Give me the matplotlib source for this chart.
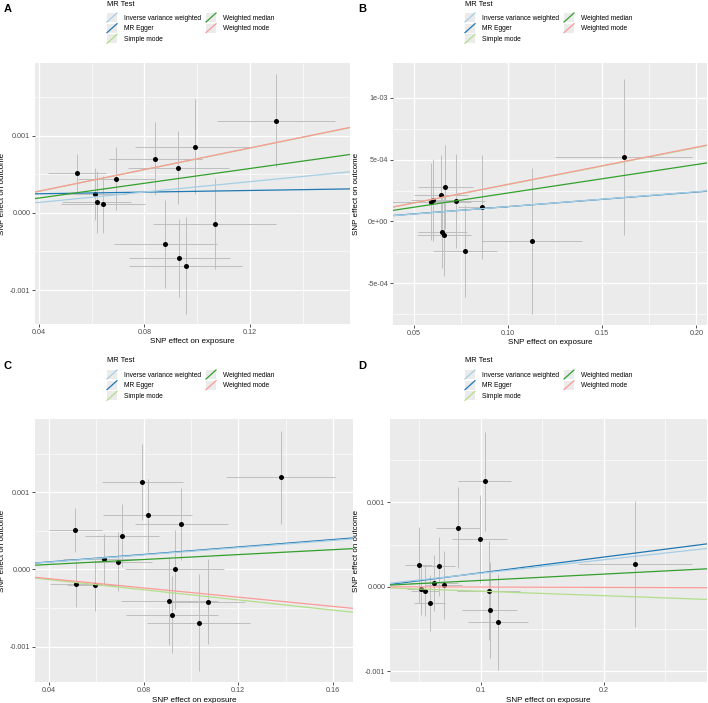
import numpy as np
import matplotlib
matplotlib.use("Agg")
import matplotlib.pyplot as plt
from matplotlib.legend_handler import HandlerBase
from matplotlib.lines import Line2D
from matplotlib.patches import Rectangle

plt.rcParams['font.family'] = ['Liberation Sans', 'DejaVu Sans']

# ---- data: SNP effects and their half error bars ----
a_bx = [0.0546, 0.0611, 0.0620, 0.0643, 0.0694, 0.0842, 0.0928, 0.0991, 0.1067, 0.0880, 0.0933, 0.0957, 0.1300]
a_by = [0.000513, 0.000241, 0.000138, 0.000108, 0.000440, 0.000703, 0.000586, 0.000858, -0.000142, -0.000405, -0.000586, -0.000685, 0.001194]
a_sx = [0.011, 0.012, 0.0131, 0.016, 0.0146, 0.0175, 0.0192, 0.0225, 0.0233, 0.0197, 0.019, 0.0214, 0.0224]
a_sy = [0.00025, 0.00034, 0.0004, 0.00037, 0.00041, 0.00047, 0.00047, 0.00061, 0.00059, 0.00057, 0.00051, 0.00063, 0.0006]

b_bx = [0.1614, 0.0594, 0.0603, 0.0645, 0.0668, 0.0726, 0.0864, 0.0652, 0.0661, 0.0771, 0.1130]
b_by = [0.000524, 0.000161, 0.000172, 0.000210, 0.000280, 0.000169, 0.000116, -0.0000887, -0.000113, -0.000237, -0.000156]
b_sx = [0.0365, 0.021, 0.012, 0.0145, 0.0147, 0.0150, 0.013, 0.0131, 0.0143, 0.017, 0.0265]
b_sy = [0.00063, 0.00031, 0.00033, 0.00033, 0.00034, 0.00038, 0.00042, 0.00029, 0.00033, 0.00037, 0.00059]

c_bx = [0.1379, 0.0795, 0.0817, 0.0960, 0.0512, 0.0709, 0.0633, 0.0694, 0.0931, 0.0515, 0.0595, 0.0909, 0.1073, 0.0921, 0.1032]
c_by = [0.001195, 0.00113, 0.000701, 0.000589, 0.000511, 0.000437, 0.000134, 0.0000996, 0.0, -0.000186, -0.000203, -0.000411, -0.000420, -0.000589, -0.000693]
c_sx = [0.023, 0.0172, 0.0186, 0.0195, 0.0112, 0.0157, 0.0172, 0.014, 0.021, 0.011, 0.012, 0.0204, 0.0155, 0.0193, 0.0219]
c_sy = [0.0006, 0.00049, 0.00047, 0.00047, 0.00029, 0.00041, 0.00033, 0.00038, 0.00051, 0.0003, 0.00033, 0.00057, 0.00055, 0.0005, 0.00063]

d_bx = [0.1035, 0.0819, 0.0992, 0.0497, 0.0659, 0.2251, 0.0619, 0.0703, 0.0516, 0.0549, 0.1065, 0.0589, 0.1073, 0.1143]
d_by = [0.00125, 0.000702, 0.000564, 0.000260, 0.000245, 0.000268, 0.0000434, 0.0000197, -0.0000316, -0.0000513, -0.0000473, -0.000193, -0.00028, -0.000418]
d_sx = [0.0215, 0.0178, 0.022, 0.011, 0.0132, 0.0463, 0.0195, 0.015, 0.011, 0.011, 0.0257, 0.0126, 0.022, 0.0243]
d_sy = [0.00059, 0.00048, 0.00052, 0.00045, 0.00035, 0.00075, 0.00033, 0.0004, 0.0003, 0.0003, 0.00059, 0.00033, 0.00057, 0.00057]

# MR estimates (slopes); MR Egger also has an intercept
methods = ["MR Egger", "Weighted median", "Inverse variance weighted", "Simple mode", "Weighted mode"]
a_slope = [0.000535, 0.00478, 0.00336, 0.00698, 0.0070]
b_slope = [0.00118, 0.0023, 0.0012, 0.00298, 0.0030]
c_slope = [0.00242, 0.0016, 0.00235, -0.0033, -0.0030]
d_slope = [0.00187, 0.00075, 0.0016, -0.00053, -0.00004]
egger_icpt = [0.000225, 0.000002, 0.0, -0.000022]

colors = {"Inverse variance weighted": "#a6cee3", "MR Egger": "#1f78b4", "Simple mode": "#b2df8a",
          "Weighted median": "#33a02c", "Weighted mode": "#fb9a99"}
legend_order = ["Inverse variance weighted", "MR Egger", "Simple mode", "Weighted median", "Weighted mode"]


class DiagHandler(HandlerBase):
    # ggplot abline key: grey square with a diagonal line
    def create_artists(self, legend, orig_handle, xdescent, ydescent, width, height, fontsize, trans):
        x0, y0 = -xdescent, -ydescent
        bg = Rectangle((x0, y0), width, height, fc="#EBEBEB", ec="none", transform=trans)
        ln = Line2D([x0, x0 + width], [y0, y0 + height], color=orig_handle.get_color(), lw=0.9, transform=trans)
        return [bg, ln]


W, H = 708, 703
fig = plt.figure(figsize=(W / 100, H / 100), dpi=100)


def panel(rect, bx, by, sx, sy, slopes, icpt, xlim, ylim, xt, xtl, xminor, yt, ytl, yminor, letter, letter_x, leg_x, leg_y):
    l, t, r, b = rect
    ax = fig.add_axes([l / W, 1 - b / H, (r - l) / W, (b - t) / H])
    ax.set_facecolor("#EBEBEB")
    for s in ax.spines.values():
        s.set_visible(False)
    ax.set_axisbelow(True)
    ax.set_xticks(xt)
    ax.set_xticklabels(xtl)
    ax.set_yticks(yt)
    ax.set_yticklabels(ytl)
    ax.set_xticks(xminor, minor=True)
    ax.set_yticks(yminor, minor=True)
    ax.grid(True, which="major", color="white", lw=0.9)
    ax.grid(True, which="minor", color="white", lw=0.45)
    ax.tick_params(which="major", length=2.2, width=0.6, color="#333333", labelsize=5.2, labelcolor="#4D4D4D", pad=1.2)
    ax.tick_params(which="minor", length=0)

    bx, by, sx, sy = map(np.array, (bx, by, sx, sy))
    ax.errorbar(bx, by, yerr=sy, fmt="none", ecolor="#BEBEBE", elinewidth=0.7, capsize=0, zorder=2)
    ax.errorbar(bx, by, xerr=sx, fmt="none", ecolor="#BEBEBE", elinewidth=0.7, capsize=0, zorder=2)
    ax.scatter(bx, by, s=13, color="black", zorder=3, lw=0)

    handles = {}
    for m, k in zip(methods, slopes):
        b0 = icpt if m == "MR Egger" else 0.0
        handles[m] = ax.axline((0, b0), slope=k, color=colors[m], lw=0.9, zorder=4)

    ax.set_xlim(*xlim)
    ax.set_ylim(*ylim)
    ax.set_xlabel("SNP effect on exposure", fontsize=5.8)
    ax.set_ylabel("SNP effect on outcome", fontsize=5.8)
    ax.xaxis.set_label_coords(0.5, -14.5 / (b - t))
    ax.yaxis.set_label_coords(-(l - letter_x - 2) / (r - l), 0.5)

    fig.legend([handles[m] for m in legend_order], legend_order, ncol=2,
               handler_map={Line2D: DiagHandler()},
               loc="upper left", bbox_to_anchor=(leg_x / W, 1 - (leg_y + 13) / H),
               frameon=False, fontsize=4.8,
               handlelength=1.5, handleheight=1.7, handletextpad=1.05,
               labelspacing=0.25, columnspacing=0.75, borderpad=0, borderaxespad=0)
    fig.text(leg_x / W, 1 - (leg_y + 4) / H, "MR Test", fontsize=5.4, va="center", ha="left")
    fig.text(letter_x / W, 1 - (leg_y + 4) / H, letter, fontsize=8, fontweight="bold", va="top")
    return ax


panel((35, 63, 350, 324), a_bx, a_by, a_sx, a_sy, a_slope, egger_icpt[0],
      (0.0385, 0.158), (-0.00144, 0.00194),
      [0.04, 0.08, 0.12], ["0.04", "0.08", "0.12"], [0.06, 0.10, 0.14],
      [-0.001, 0, 0.001], ["-0.001", "0.000", "0.001"], [-0.0005, 0.0005, 0.0015],
      "A", 4, 107, 0)

panel((393, 63, 707, 325), b_bx, b_by, b_sx, b_sy, b_slope, egger_icpt[1],
      (0.039, 0.2057), (-0.000836, 0.00128),
      [0.05, 0.10, 0.15, 0.20], ["0.05", "0.10", "0.15", "0.20"], [0.075, 0.125, 0.175],
      [-0.0005, 0, 0.0005, 0.001], ["-5e-04", "0e+00", "5e-04", "1e-03"], [-0.00075, -0.00025, 0.00025, 0.00075],
      "B", 358, 465, 0)

panel((35, 419, 353, 682), c_bx, c_by, c_sx, c_sy, c_slope, egger_icpt[2],
      (0.0342, 0.1684), (-0.00146, 0.00195),
      [0.04, 0.08, 0.12, 0.16], ["0.04", "0.08", "0.12", "0.16"], [0.06, 0.10, 0.14],
      [-0.001, 0, 0.001], ["-0.001", "0.000", "0.001"], [-0.0005, 0.0005, 0.0015],
      "C", 4, 107, 357)

panel((390, 419, 707, 682), d_bx, d_by, d_sx, d_sy, d_slope, egger_icpt[3],
      (0.0265, 0.2838), (-0.00113, 0.00199),
      [0.1, 0.2], ["0.1", "0.2"], [0.05, 0.15, 0.25],
      [-0.001, 0, 0.001], ["-0.001", "0.000", "0.001"], [-0.0005, 0.0005, 0.0015],
      "D", 358, 465, 357)

fig.savefig("out.png", dpi=100)
